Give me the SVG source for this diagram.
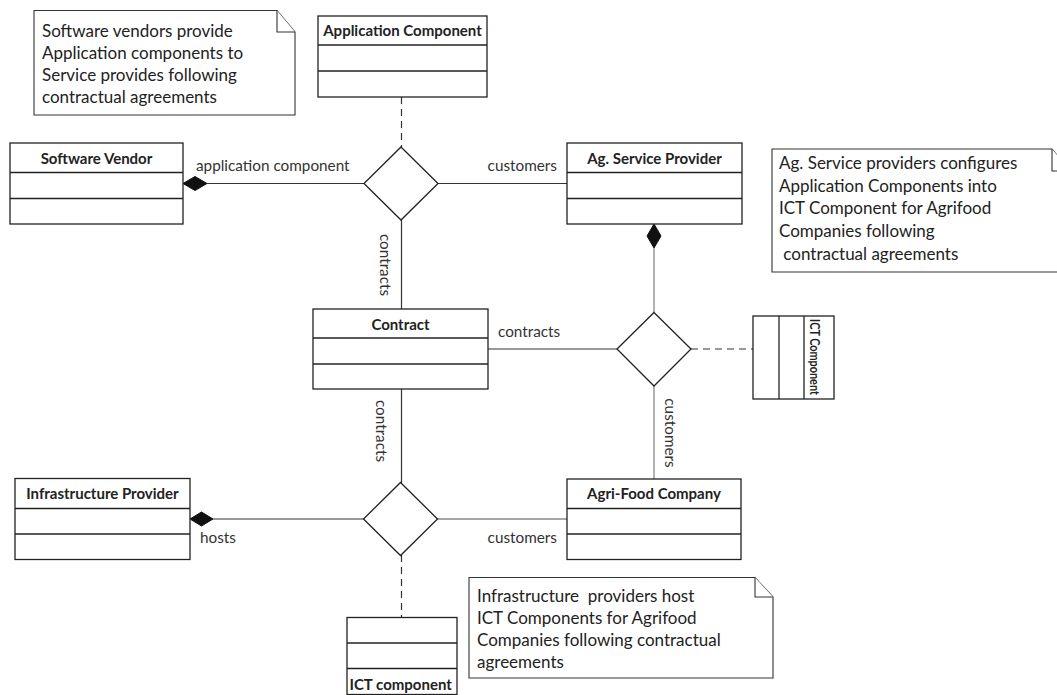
<svg xmlns="http://www.w3.org/2000/svg" width="1057" height="695" viewBox="0 0 1057 695">
  <style>
    .box { fill: #fff; stroke: #222; stroke-width: 1.3; }
    .div { stroke: #222; stroke-width: 1.3; }
    .title { font-family: Lato, "Liberation Sans", sans-serif; font-weight: bold; font-size: 15px; fill: #222; text-anchor: middle; }
    .lbl { font-family: Lato, "Liberation Sans", sans-serif; font-size: 15.3px; fill: #333; }
    .note { font-family: Lato, "Liberation Sans", sans-serif; font-size: 17px; fill: #222; }
    .line { stroke: #333; stroke-width: 1.2; fill: none; }
    .gline { stroke: #888; stroke-width: 1.3; fill: none; }
    .dash { stroke: #333; stroke-width: 1.2; fill: none; stroke-dasharray: 7 5; }
    .assoc { fill: #fff; stroke: #222; stroke-width: 1.3; }
    .comp { fill: #111; stroke: #111; stroke-width: 1; }
    .notebox { fill: #fff; stroke: #333; stroke-width: 1.1; }
  </style>

  <!-- connectors -->
  <g id="connectors">
    <line class="dash" x1="401.5" y1="97" x2="401.5" y2="147"/>
    <line class="line" x1="207" y1="183.5" x2="364" y2="183.5"/>
    <line class="line" x1="438" y1="183.5" x2="567" y2="183.5"/>
    <line class="line" x1="401.5" y1="220" x2="401.5" y2="309"/>
    <line class="gline" x1="654" y1="248" x2="654" y2="312"/>
    <line class="line" x1="488" y1="349" x2="617" y2="349"/>
    <line class="dash" x1="691" y1="349" x2="753" y2="349"/>
    <line class="gline" x1="654" y1="386" x2="654" y2="479"/>
    <line class="line" x1="401.5" y1="389" x2="401.5" y2="483"/>
    <line class="line" x1="213" y1="519" x2="364" y2="519"/>
    <line class="gline" x1="437" y1="519" x2="567" y2="519"/>
    <line class="dash" x1="401.5" y1="555" x2="401.5" y2="617"/>

    <!-- composition ends -->
    <polygon class="comp" points="183,183.5 195,176.5 207,183.5 195,190.5"/>
    <polygon class="comp" points="654,224 661,236 654,248 647,236"/>
    <polygon class="comp" points="190,519 201.5,512 213,519 201.5,526"/>

    <!-- association diamonds -->
    <polygon class="assoc" points="401,147 438,183.5 401,220 364,183.5"/>
    <polygon class="assoc" points="654,312.5 691,349 654,386 617,349"/>
    <polygon class="assoc" points="400.5,482.5 437.5,519 400.5,555.5 363.5,519"/>

    <!-- role labels -->
    <text class="lbl" x="196" y="171">application component</text>
    <text class="lbl" x="557" y="171" text-anchor="end">customers</text>
    <text class="lbl" x="498" y="337">contracts</text>
    <text class="lbl" x="557" y="543" text-anchor="end">customers</text>
    <text class="lbl" x="200" y="543">hosts</text>
    <text class="lbl" transform="translate(380,265) rotate(90)" text-anchor="middle">contracts</text>
    <text class="lbl" transform="translate(376,431) rotate(90)" text-anchor="middle">contracts</text>
    <text class="lbl" transform="translate(665,433) rotate(90)" text-anchor="middle">customers</text>
  </g>

  <!-- notes -->
  <g id="note-vendors">
    <path class="notebox" d="M34,10.5 H277 L295,32 V115 H34 Z"/>
    <path class="notebox" d="M277,10.5 V32 H295" fill="none"/>
    <text class="note" x="42" y="37">Software vendors provide</text>
    <text class="note" x="42" y="59">Application components to</text>
    <text class="note" x="42" y="81">Service provides following</text>
    <text class="note" x="42" y="103">contractual agreements</text>
  </g>

  <g id="note-service-providers">
    <path class="notebox" d="M772,149 H1052 L1070,171 V272 H772 Z"/>
    <path class="notebox" d="M1052,149 V171 H1070" fill="none"/>
    <text class="note" x="779" y="169">Ag. Service providers configures</text>
    <text class="note" x="779" y="192">Application Components into</text>
    <text class="note" x="779" y="214">ICT Component for Agrifood</text>
    <text class="note" x="779" y="237">Companies following</text>
    <text class="note" x="779" y="260" xml:space="preserve"> contractual agreements</text>
  </g>

  <g id="note-infrastructure">
    <path class="notebox" d="M469,577.5 H755 L773,597 V678 H469 Z"/>
    <path class="notebox" d="M755,577.5 V597 H773" fill="none"/>
    <text class="note" x="477" y="602" xml:space="preserve">Infrastructure  providers host</text>
    <text class="note" x="477" y="624">ICT Components for Agrifood</text>
    <text class="note" x="477" y="646">Companies following contractual</text>
    <text class="note" x="477" y="668">agreements</text>
  </g>

  <!-- classes -->
  <g id="application-component">
    <rect class="box" x="318" y="16" width="169" height="81"/>
    <line class="div" x1="318" y1="45" x2="487" y2="45"/>
    <line class="div" x1="318" y1="71" x2="487" y2="71"/>
    <text class="title" x="402.5" y="35.5">Application Component</text>
  </g>

  <g id="software-vendor">
    <rect class="box" x="10" y="143" width="173" height="81"/>
    <line class="div" x1="10" y1="172.5" x2="183" y2="172.5"/>
    <line class="div" x1="10" y1="198.5" x2="183" y2="198.5"/>
    <text class="title" x="96.5" y="163.5">Software Vendor</text>
  </g>

  <g id="ag-service-provider">
    <rect class="box" x="567" y="143" width="175" height="81"/>
    <line class="div" x1="567" y1="172.5" x2="742" y2="172.5"/>
    <line class="div" x1="567" y1="198.5" x2="742" y2="198.5"/>
    <text class="title" x="654.5" y="163.5">Ag. Service Provider</text>
  </g>

  <g id="contract">
    <rect class="box" x="313" y="309" width="175" height="80"/>
    <line class="div" x1="313" y1="338" x2="488" y2="338"/>
    <line class="div" x1="313" y1="364" x2="488" y2="364"/>
    <text class="title" x="400.5" y="329.5">Contract</text>
  </g>

  <g id="ict-component-right">
    <rect class="box" x="753" y="316" width="81" height="83"/>
    <line class="div" x1="779" y1="316" x2="779" y2="399"/>
    <line class="div" x1="804" y1="316" x2="804" y2="399"/>
    <text class="title" style="font-size:14px" textLength="76" lengthAdjust="spacingAndGlyphs" transform="translate(810,357) rotate(90)">ICT Component</text>
  </g>

  <g id="infrastructure-provider">
    <rect class="box" x="15" y="478.5" width="175" height="81"/>
    <line class="div" x1="15" y1="508.5" x2="190" y2="508.5"/>
    <line class="div" x1="15" y1="534" x2="190" y2="534"/>
    <text class="title" x="102.5" y="498.5">Infrastructure Provider</text>
  </g>

  <g id="agri-food-company">
    <rect class="box" x="567" y="479" width="174" height="80.5"/>
    <line class="div" x1="567" y1="508.5" x2="741" y2="508.5"/>
    <line class="div" x1="567" y1="534" x2="741" y2="534"/>
    <text class="title" x="654" y="498.5">Agri-Food Company</text>
  </g>

  <g id="ict-component-bottom">
    <rect class="box" x="347" y="617.5" width="110" height="77"/>
    <line class="div" x1="347" y1="643" x2="457" y2="643"/>
    <line class="div" x1="347" y1="668.5" x2="457" y2="668.5"/>
    <text class="title" style="text-anchor:start" x="349.5" y="690">ICT component</text>
  </g>
</svg>
